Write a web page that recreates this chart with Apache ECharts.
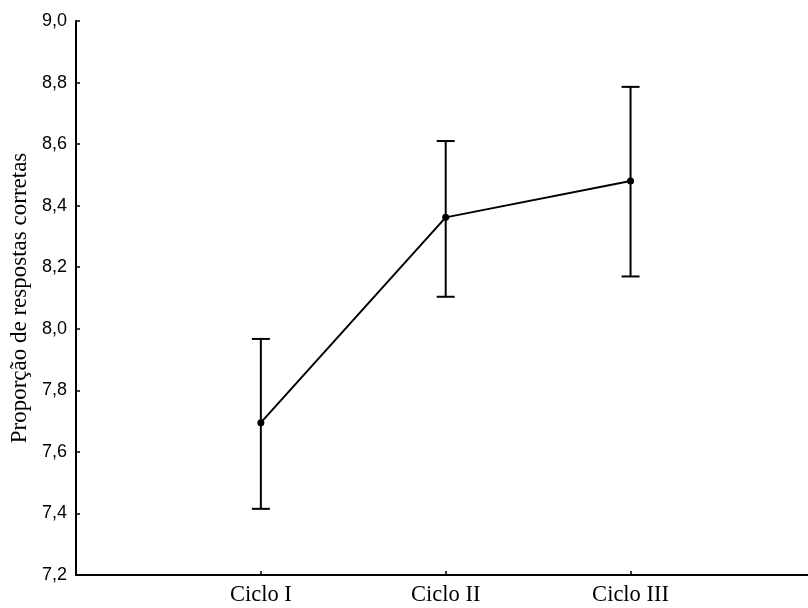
<!DOCTYPE html>
<html>
<head>
<meta charset="utf-8">
<script src="https://cdn.jsdelivr.net/npm/echarts@6/dist/echarts.min.js"></script>
<style>html,body{margin:0;padding:0;background:#fff}#c{width:808px;height:608px}</style>
</head>
<body>
<div id="c"></div>
<script>
var categories = ['Ciclo I', 'Ciclo II', 'Ciclo III'];
var means = [7.695, 8.362, 8.480];
var upper = [7.967, 8.610, 8.786];
var lower = [7.415, 8.104, 8.170];
var yTicks = [7.2, 7.4, 7.6, 7.8, 8.0, 8.2, 8.4, 8.6, 8.8, 9.0];

var lineData = means.map(function (v, i) { return [i + 1, v]; });
var errData = means.map(function (v, i) { return [i + 1, lower[i], upper[i]]; });

var chart = echarts.init(document.getElementById('c'));
chart.setOption({
  animation: false,
  backgroundColor: '#fff',
  grid: { left: 76, right: 0, top: 21, bottom: 33, containLabel: false, outerBoundsMode: 'none' },
  xAxis: {
    type: 'value', min: 0, max: 3.96, interval: 1,
    splitLine: { show: false },
    axisLine: { lineStyle: { color: '#000', width: 2 } },
    axisTick: { show: true, inside: true, length: 4, lineStyle: { color: '#000', width: 1.5 } },
    axisLabel: {
      color: '#000', fontFamily: 'Liberation Serif', fontSize: 22.5, margin: 9,
      showMinLabel: true, showMaxLabel: false,
      formatter: function (v) { var i = Math.round(v) - 1; return (Math.abs(v - Math.round(v)) < 1e-6 && categories[i]) ? categories[i] : ''; }
    }
  },
  yAxis: {
    type: 'value', min: 7.2, max: 9.0, interval: 0.2,
    name: 'Proporção de respostas corretas', nameLocation: 'middle', nameGap: 45,
    nameTextStyle: { color: '#000', fontFamily: 'Liberation Serif', fontSize: 23 },
    splitLine: { show: false },
    axisLine: { show: true, lineStyle: { color: '#000', width: 2 } },
    axisTick: { show: true, inside: true, length: 4, lineStyle: { color: '#000', width: 1.5 } },
    axisLabel: {
      color: '#000', fontFamily: 'Liberation Sans', fontSize: 18, margin: 9,
      formatter: function (v) {
        var best = yTicks.reduce(function (a, b) { return Math.abs(b - v) < Math.abs(a - v) ? b : a; });
        return best.toFixed(1).replace('.', ',');
      }
    }
  },
  series: [
    {
      type: 'custom',
      data: errData,
      z: 2,
      renderItem: function (params, api) {
        var x = api.value(0);
        var lo = api.coord([x, api.value(1)]);
        var hi = api.coord([x, api.value(2)]);
        var w = 9;
        var style = { stroke: '#000', lineWidth: 2 };
        return {
          type: 'group',
          children: [
            { type: 'line', shape: { x1: lo[0], y1: lo[1], x2: hi[0], y2: hi[1] }, style: style },
            { type: 'line', shape: { x1: lo[0] - w, y1: lo[1], x2: lo[0] + w, y2: lo[1] }, style: style },
            { type: 'line', shape: { x1: hi[0] - w, y1: hi[1], x2: hi[0] + w, y2: hi[1] }, style: style }
          ]
        };
      }
    },
    {
      type: 'line',
      data: lineData,
      z: 3,
      symbol: 'circle', symbolSize: 7,
      itemStyle: { color: '#000' },
      lineStyle: { color: '#000', width: 2 }
    }
  ]
});
</script>
</body>
</html>
